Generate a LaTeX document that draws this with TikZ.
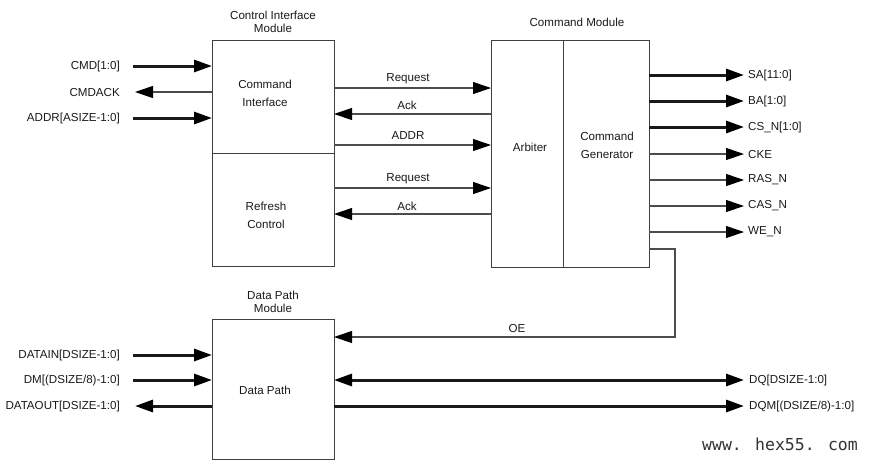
\documentclass[tikz,border=0pt]{standalone}
\usepackage{fontspec}
\setmainfont{Liberation Sans}
\newfontfamily\wmfont{DejaVu Sans Mono}
\usetikzlibrary{arrows.meta}
\begin{document}
\begin{tikzpicture}[x=1pt,y=-1pt,
  box/.style={draw=black!75, line width=0.9pt, inner sep=0pt, outer sep=0pt},
  lbl/.style={font=\fontsize{11.6}{12}\selectfont, inner sep=0pt, text=black!90},
  sig/.style={draw=black!70, line width=1.1pt},
  bus/.style={draw=black!90, line width=3pt},
  tip/.style={-{Triangle[length=18pt,width=12pt,color=black]}},
  tipb/.style={{Triangle[length=18pt,width=12pt,color=black]}-{Triangle[length=18pt,width=12pt,color=black]}},
]
\useasboundingbox (0,0) rectangle (869,467);
% boxes
\node[box, minimum width=122pt, minimum height=226pt] (ci) at (273,153) {};
\draw[box] (212,153) -- (334,153);
\node[box, minimum width=158pt, minimum height=227pt] (cm) at (570,153.5) {};
\draw[box] (563,40) -- (563,267);
\node[box, minimum width=122pt, minimum height=140pt] (dp) at (273,389) {};
% titles
\node[lbl, align=center] (t1) at (273,22) {Control Interface\\[1.5pt]Module};
\node[lbl] (t2) at (577,22) {Command Module};
\node[lbl, align=center] (t3) at (273,302) {Data Path\\[1.5pt]Module};
% inner texts
\node[lbl, align=center] (x1) at (265,93) {Command\\[6pt]Interface};
\node[lbl, align=center] (x2) at (266,215.5) {Refresh\\[6pt]Control};
\node[lbl] (x3) at (530,147) {Arbiter};
\node[lbl, align=center] (x4) at (607,145.5) {Command\\[6pt]Generator};
\node[lbl] (x5) at (265,390) {Data Path};
% left side signals
\coordinate (l1) at (133,66);  \coordinate (r1) at (212,66);
\coordinate (l2) at (135,92);  \coordinate (r2) at (212,92);
\coordinate (l3) at (133,118); \coordinate (r3) at (212,118);
\coordinate (l4) at (133,355); \coordinate (r4) at (212,355);
\coordinate (l5) at (133,380); \coordinate (r5) at (212,380);
\coordinate (l6) at (135,406); \coordinate (r6) at (212,406);
\draw[bus,tip] (l1) -- (r1);
\draw[sig,tip] (r2) -- (l2);
\draw[bus,tip] (l3) -- (r3);
\draw[bus,tip] (l4) -- (r4);
\draw[bus,tip] (l5) -- (r5);
\draw[bus,tip] (r6) -- (l6);
\node[lbl, anchor=east] (n1) at (120,66) {CMD[1:0]};
\node[lbl, anchor=east] (n2) at (120,92) {CMDACK};
\node[lbl, anchor=east] (n3) at (120,118) {ADDR[ASIZE-1:0]};
\node[lbl, anchor=east] (n4) at (120,355) {DATAIN[DSIZE-1:0]};
\node[lbl, anchor=east] (n5) at (120,380) {DM[(DSIZE/8)-1:0]};
\node[lbl, anchor=east] (n6) at (120,406) {DATAOUT[DSIZE-1:0]};
% middle signals
\coordinate (a1) at (334,88);  \coordinate (b1) at (491,88);
\coordinate (a2) at (334,114); \coordinate (b2) at (491,114);
\coordinate (a3) at (334,145); \coordinate (b3) at (491,145);
\coordinate (a4) at (334,188); \coordinate (b4) at (491,188);
\coordinate (a5) at (334,214); \coordinate (b5) at (491,214);
\draw[sig,tip] (a1) -- (b1);
\draw[sig,tip] (b2) -- (a2);
\draw[sig,tip] (a3) -- (b3);
\draw[sig,tip] (a4) -- (b4);
\draw[sig,tip] (b5) -- (a5);
\node[lbl] (m1) at (408,79) {Request};
\node[lbl] (m2) at (407,105) {Ack};
\node[lbl] (m3) at (408,136) {ADDR};
\node[lbl] (m4) at (408,179) {Request};
\node[lbl] (m5) at (407,206) {Ack};
% right outputs
\foreach \y/\s/\t/\k in {75/bus/SA[11:0]/1, 101/bus/BA[1:0]/2, 127/bus/CS\_N[1:0]/3, 154/sig/CKE/4, 180/sig/RAS\_N/5, 206/sig/CAS\_N/6, 232/sig/WE\_N/7}{
  \coordinate (o\k) at (649,\y);
  \coordinate (p\k) at (744,\y);
  \draw[\s,tip] (o\k) -- (p\k);
  \node[lbl, anchor=west] (q\k) at (748,\y) {\t};
}
% OE
\coordinate (oe1) at (649,249);
\coordinate (oe2) at (675,249);
\coordinate (oe3) at (675,337);
\coordinate (oe4) at (334,337);
\draw[sig,tip] (oe1) -- (oe2) -- (oe3) -- (oe4);
\node[lbl] (oel) at (517,328) {OE};
% DQ, DQM
\coordinate (d1) at (334,380); \coordinate (e1) at (744,380);
\coordinate (d2) at (334,406); \coordinate (e2) at (744,406);
\draw[bus,tipb] (d1) -- (e1);
\draw[bus,tip] (d2) -- (e2);
\node[lbl, anchor=west] (dq) at (749,380) {DQ[DSIZE-1:0]};
\node[lbl, anchor=west] (dqm) at (749,406) {DQM[(DSIZE/8)-1:0]};
% watermark
\node[font=\wmfont\fontsize{16.5}{18}\selectfont, text=black!80, inner sep=0pt] (wm) at (780,444) {www. hex55. com};
\end{tikzpicture}
\end{document}
